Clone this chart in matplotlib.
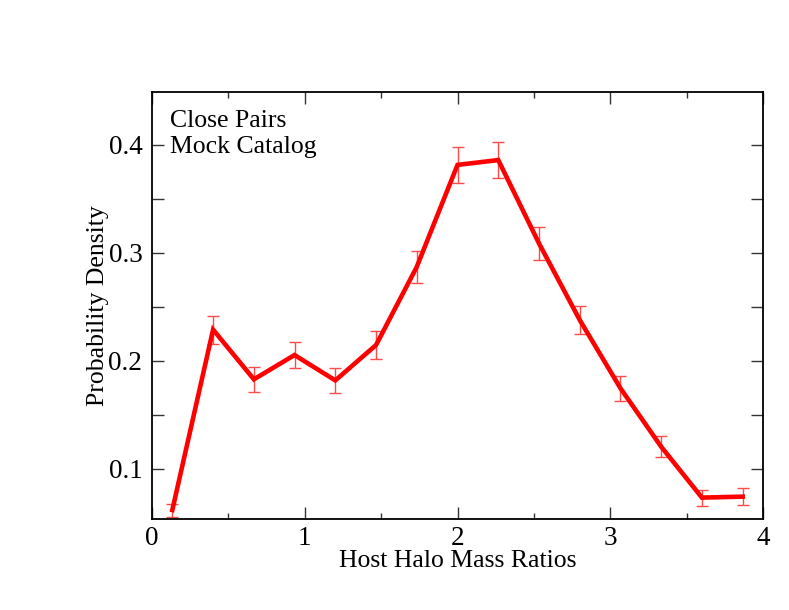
import matplotlib
matplotlib.use("Agg")
import matplotlib.pyplot as plt
from matplotlib.ticker import MultipleLocator

mass_ratio = [0.133, 0.400, 0.667, 0.933, 1.200, 1.467, 1.733, 2.000,
              2.267, 2.533, 2.800, 3.067, 3.333, 3.600, 3.867]
density = [0.062, 0.229, 0.183, 0.2055, 0.182, 0.2148, 0.287, 0.3815,
           0.386, 0.309, 0.238, 0.1747, 0.1207, 0.0735, 0.0744]
density_err = [0.006, 0.013, 0.0117, 0.0124, 0.0116, 0.0127, 0.0145, 0.017,
               0.017, 0.0153, 0.0133, 0.0114, 0.0094, 0.0074, 0.0076]

xlabel = "Host Halo Mass Ratios"
ylabel = "Probability Density"
annotation = ["Close Pairs", "Mock Catalog"]

plt.rcParams['font.family'] = ['Liberation Serif', 'DejaVu Serif']

fig = plt.figure(figsize=(7.89, 6.10), dpi=100)
ax = fig.add_axes([152/789, 1-519/610, (763-152)/789, (519-92)/610])

ax.errorbar(mass_ratio, density, yerr=density_err, fmt='none',
            ecolor='#ff4a4a', elinewidth=1.0, capsize=4.3, capthick=1.0, zorder=2)
ax.plot(mass_ratio, density, color='#ff0000', lw=3.3, zorder=3,
        solid_joinstyle='miter')

ax.set_xlim(0, 4)
ax.set_ylim(0.0537, 0.449)
ax.xaxis.set_major_locator(MultipleLocator(1))
ax.xaxis.set_minor_locator(MultipleLocator(0.5))
ax.yaxis.set_major_locator(MultipleLocator(0.1))
ax.yaxis.set_minor_locator(MultipleLocator(0.05))
ax.xaxis.set_major_formatter(plt.FuncFormatter(lambda v, p: f"{v:g}"))
ax.yaxis.set_major_formatter(plt.FuncFormatter(lambda v, p: f"{v:.1f}"))

ax.tick_params(axis='both', which='both', direction='in', top=True, right=True,
               width=1.0, color='#333333', labelsize=19.5)
ax.tick_params(axis='x', which='major', length=8.6, pad=5)
ax.tick_params(axis='x', which='minor', length=4.3)
ax.tick_params(axis='y', which='both', length=8.6, pad=7)
for s in ax.spines.values():
    s.set_linewidth(1.3)

ax.set_xlabel(xlabel, fontsize=18.5, labelpad=-1)
ax.set_ylabel(ylabel, fontsize=18.5, labelpad=-0.5)

ax.text(170, 610-127, annotation[0], transform=None, fontsize=18.5, ha='left', va='baseline')
ax.text(170, 610-153, annotation[1], transform=None, fontsize=18.5, ha='left', va='baseline')

fig.savefig("out.png", dpi=100)
